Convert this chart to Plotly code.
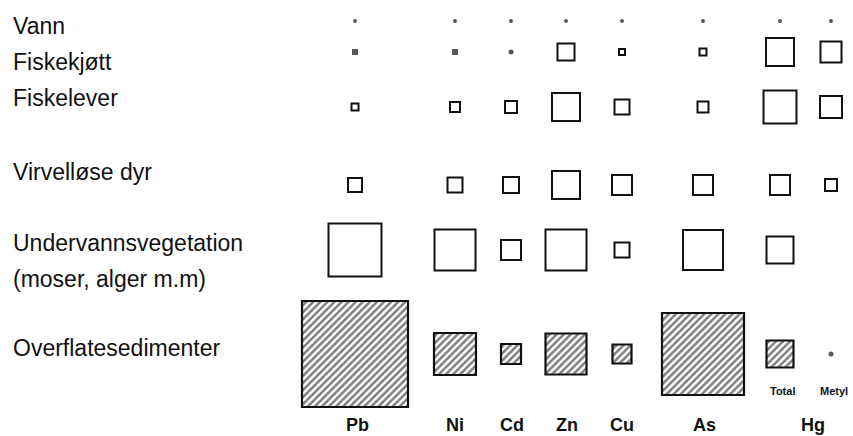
import plotly.graph_objects as go

# ---------------- data ----------------
columns = ["Pb", "Ni", "Cd", "Zn", "Cu", "As", "Hg Total", "Hg Metyl"]
col_labels = ["Pb", "Ni", "Cd", "Zn", "Cu", "As", "Hg"]
hg_sub_labels = ["Total", "Metyl"]
row_labels = ["Vann", "Fiskekjøtt", "Fiskelever", "Virvelløse dyr",
              "Undervannsvegetation<br>(moser, alger m.m)", "Overflatesedimenter"]

# relative concentration level, drawn as the side of a square
vann = [3, 3, 3, 3, 3, 3, 3, 3]
fiskekjott = [5, 5, 4, 17, 6, 7, 28, 21]
fiskelever = [7, 10, 12, 28, 15, 11, 33, 22]
virvellose = [14, 15, 16, 28, 20, 20, 20, 12]
vegetasjon = [53, 41, 20, 41, 15, 40, 27, None]
sediment = [106, 42, 20, 41, 19, 82, 27, 4]

series = [vann, fiskekjott, fiskelever, virvellose, vegetasjon, sediment]
hatched = [False, False, False, False, False, True]

# ---------------- layout positions ----------------
W, H = 853, 436
col_x = [355, 455, 511, 566, 622, 703, 780, 831]
row_y = [21, 52, 107, 185, 250, 354]
row_text_y = [26, 62, 98, 172, 243, 348]
row_line_gap = 36
col_label_x = [357, 455, 512, 567, 622, 704, 813]
col_label_y = 424.5
sub_label_x = [782, 834]
sub_label_y = 391
DOT_MAX = 5

fig = go.Figure()

for vals, yc, hat in zip(series, row_y, hatched):
    bx, bw, bb = [], [], []
    dx, dy, ds, dsym = [], [], [], []
    for v, xc in zip(vals, col_x):
        if v is None:
            continue
        if v <= DOT_MAX:
            dx.append(xc); dy.append(yc); ds.append(v + 1)
            dsym.append("square" if v >= 5 else "circle")
        else:
            bx.append(xc); bw.append(v); bb.append(yc - v / 2)
    if bx:
        marker = dict(color="white", line=dict(color="#111111", width=2.2 if hat else 2))
        if hat:
            marker["pattern"] = dict(shape="/", fgcolor="#000000", bgcolor="white",
                                     size=5, solidity=0.5)
        fig.add_trace(go.Bar(x=bx, y=bw, base=bb, width=bw, marker=marker,
                             hoverinfo="skip", showlegend=False))
    if dx:
        fig.add_trace(go.Scatter(x=dx, y=dy, mode="markers",
                                 marker=dict(color="#111111", size=ds, symbol=dsym,
                                             line=dict(width=0)),
                                 hoverinfo="skip", showlegend=False))

annotations = []
font_row = dict(family="Liberation Sans, Arial, sans-serif", size=23, color="#111111")
for lab, ty in zip(row_labels, row_text_y):
    for i, part in enumerate(lab.split("<br>")):
        annotations.append(dict(x=11, y=ty + i * row_line_gap, xref="x", yref="y",
                                text=part, showarrow=False, xanchor="left",
                                yanchor="middle", font=font_row))

font_col = dict(family="Liberation Sans, Arial, sans-serif", size=18, color="#111111")
for lab, xc in zip(col_labels, col_label_x):
    annotations.append(dict(x=xc, y=col_label_y, xref="x", yref="y",
                            text="<b>" + lab + "</b>", showarrow=False, borderpad=0,
                            xanchor="center", yanchor="middle", font=font_col))

font_sub = dict(family="Liberation Sans, Arial, sans-serif", size=11, color="#111111")
for lab, xc in zip(hg_sub_labels, sub_label_x):
    annotations.append(dict(x=xc, y=sub_label_y, xref="x", yref="y",
                            text="<b>" + lab + "</b>", showarrow=False,
                            xanchor="center", yanchor="middle", font=font_sub))

fig.update_layout(
    width=W, height=H, autosize=False,
    margin=dict(l=0, r=0, t=0, b=0, pad=0),
    paper_bgcolor="white", plot_bgcolor="white",
    barmode="overlay",
    xaxis=dict(range=[0, W], visible=False, fixedrange=True),
    yaxis=dict(range=[H, 0], visible=False, fixedrange=True),
    annotations=annotations,
)

fig.write_html("out.html", config={"displayModeBar": False},
               post_script="document.body.style.margin='0';document.body.style.overflow='hidden';")
